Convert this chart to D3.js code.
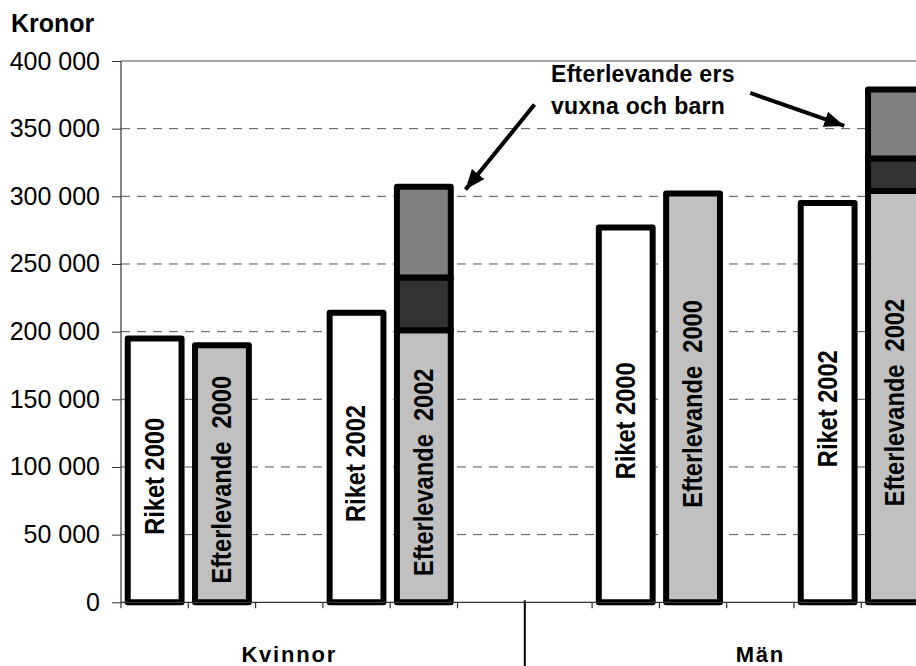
<!DOCTYPE html>
<meta charset="utf-8">
<style>
    body { margin: 0; background: #fff; }
    svg { font-family: "Liberation Sans", Arial, sans-serif; }
    .grid line { stroke: #555; stroke-width: 1px; stroke-dasharray: 9,7; }
    .bar { stroke: #000; stroke-width: 6px; stroke-linejoin: round; }
    .barlabel { font-size: 27.5px; font-weight: bold; white-space: pre; }
</style>
<svg width="916" height="666"></svg>
<script src="https://cdn.jsdelivr.net/npm/d3@7"></script>
<script>

    // category slots along the x axis (empty slots are the gaps)
    var slots = ["K Riket 2000", "K Efterlevande 2000", "K tom", "K Riket 2002", "K Efterlevande 2002",
                 "tom 1", "tom 2",
                 "M Riket 2000", "M Efterlevande 2000", "M tom", "M Riket 2002", "M Efterlevande 2002"];

    var groups = ["Kvinnor", "Män"];
    var groupFirst = ["K Riket 2000", "M Riket 2000"];
    var groupLast = ["K Efterlevande 2002", "M Efterlevande 2002"];

    // bars
    var barSlot = ["K Riket 2000", "K Efterlevande 2000", "K Riket 2002", "K Efterlevande 2002",
                   "M Riket 2000", "M Efterlevande 2000", "M Riket 2002", "M Efterlevande 2002"];
    var barLabel = ["Riket 2000", "Efterlevande  2000", "Riket 2002", "Efterlevande  2002",
                    "Riket 2000", "Efterlevande  2000", "Riket 2002", "Efterlevande  2002"];
    var baseValue = [195000, 190000, 214000, 201000, 277000, 302000, 295000, 304000];
    var darkPart  = [0, 0, 0, 39000, 0, 0, 0, 24000];
    var greyPart  = [0, 0, 0, 67000, 0, 0, 0, 51000];

    var yTicks = [0, 50000, 100000, 150000, 200000, 250000, 300000, 350000, 400000];

    var svg = d3.select("svg"),
        margin = {top: 61, left: 121, bottom: 63},
        bandW = 67.3,
        height = +svg.attr("height") - margin.top - margin.bottom;

    var x = d3.scaleBand().domain(slots)
        .range([margin.left, margin.left + bandW * slots.length]).padding(0);
    var y = d3.scaleLinear().domain([0, 400000]).range([margin.top + height - 0.7, margin.top]);

    var fmt = d3.formatLocale({decimal: ",", thousands: " ", grouping: [3], currency: ["", ""]}).format(",");

    // grid
    svg.append("g").attr("class", "grid")
        .selectAll("line")
        .data(yTicks.filter(function(d) { return d > 0 && d < 400000; }))
        .enter().append("line")
        .attr("x1", margin.left).attr("x2", 916)
        .attr("y1", function(d) { return y(d); })
        .attr("y2", function(d) { return y(d); });

    svg.append("line")
        .attr("x1", margin.left).attr("x2", 916)
        .attr("y1", y(400000)).attr("y2", y(400000))
        .attr("stroke", "#888").attr("stroke-width", 1.5);

    // bars
    var bars = barSlot.map(function(s, i) {
        return {slot: s, label: barLabel[i], base: baseValue[i], dark: darkPart[i], grey: greyPart[i]};
    });
    var bw = x.bandwidth() * 0.8;
    var bx = function(d) { return x(d.slot) + (x.bandwidth() - bw) / 2; };

    var bar = svg.append("g").selectAll("g").data(bars).enter().append("g");

    bar.append("rect").attr("class", "bar")
        .attr("x", bx).attr("width", bw)
        .attr("y", function(d) { return y(d.base); })
        .attr("height", function(d) { return y(0) - y(d.base); })
        .attr("fill", function(d) { return d.label.indexOf("Riket") === 0 ? "#fff" : "#c0c0c0"; });

    var stacked = bar.filter(function(d) { return d.dark > 0; });
    stacked.append("rect").attr("class", "bar")
        .attr("x", bx).attr("width", bw)
        .attr("y", function(d) { return y(d.base + d.dark); })
        .attr("height", function(d) { return y(d.base) - y(d.base + d.dark); })
        .attr("fill", "#333");
    stacked.append("rect").attr("class", "bar")
        .attr("x", bx).attr("width", bw)
        .attr("y", function(d) { return y(d.base + d.dark + d.grey); })
        .attr("height", function(d) { return y(d.base + d.dark) - y(d.base + d.dark + d.grey); })
        .attr("fill", "#808080");

    // labels are drawn tall and narrow, like the original
    bar.append("text").attr("class", "barlabel")
        .attr("xml:space", "preserve")
        .attr("transform", function(d) {
            return "translate(" + (x(d.slot) + x.bandwidth() / 2 - 1) + "," + ((y(0) + y(d.base)) / 2 + 6) + ") rotate(-90) scale(0.86,1)";
        })
        .attr("text-anchor", "middle")
        .attr("dy", "0.36em")
        .text(function(d) { return d.label; });

    // y axis
    var yAxis = svg.append("g")
        .attr("transform", "translate(" + margin.left + ",0)")
        .call(d3.axisLeft(y).tickValues(yTicks).tickFormat(fmt).tickSize(9).tickPadding(12));
    yAxis.select(".domain").attr("stroke", "#333").attr("stroke-width", 1.2).attr("d", "M0," + y(400000) + "V" + (y(0) + 6));
    yAxis.selectAll(".tick line").attr("stroke", "#333");
    yAxis.selectAll(".tick text").style("font-size", "25px").attr("fill", "#000");

    // x axis line and category ticks
    svg.append("line")
        .attr("x1", margin.left).attr("x2", 916)
        .attr("y1", y(0)).attr("y2", y(0))
        .attr("stroke", "#333").attr("stroke-width", 1.2);
    svg.append("g").selectAll("line")
        .data(slots.slice(1))
        .enter().append("line")
        .attr("x1", function(d) { return x(d); }).attr("x2", function(d) { return x(d); })
        .attr("y1", y(0)).attr("y2", y(0) + 6)
        .attr("stroke", "#333").attr("stroke-width", 1.2);

    // group divider
    svg.append("line")
        .attr("x1", x("tom 2")).attr("x2", x("tom 2"))
        .attr("y1", y(0) - 2).attr("y2", 666)
        .attr("stroke", "#000").attr("stroke-width", 2);

    // group labels
    svg.append("g").selectAll("text")
        .data(groups)
        .enter().append("text")
        .attr("x", function(d, i) { return (x(groupFirst[i]) + x(groupLast[i]) + x.bandwidth()) / 2; })
        .attr("y", 662)
        .attr("text-anchor", "middle")
        .style("font-size", "22px").style("font-weight", "bold").style("letter-spacing", "1.8px")
        .text(function(d) { return d; });

    // y title
    svg.append("text")
        .attr("x", 11).attr("y", 32)
        .style("font-size", "25px").style("font-weight", "bold")
        .text("Kronor");

    // annotation
    svg.append("defs").append("marker")
        .attr("id", "head")
        .attr("markerUnits", "userSpaceOnUse")
        .attr("viewBox", "0 0 20 16")
        .attr("refX", 20).attr("refY", 8)
        .attr("markerWidth", 20).attr("markerHeight", 16)
        .attr("orient", "auto")
        .append("path").attr("d", "M0,0L20,8L0,16Z").attr("fill", "#000");

    var note = svg.append("text")
        .attr("x", 551).attr("y", 82)
        .style("font-size", "23px").style("font-weight", "bold").style("letter-spacing", "0.3px");
    note.append("tspan").attr("x", 551).text("Efterlevande ers");
    note.append("tspan").attr("x", 551).attr("dy", 31.5).text("vuxna och barn");

    var arrows = [
        {tip: [x("K Efterlevande 2002") + x.bandwidth() + 8, y(305000)], tail: [69, -85]},
        {tip: [x("M Efterlevande 2002") - 17, y(352000)], tail: [-94, -33]}
    ];
    svg.append("g").selectAll("line")
        .data(arrows)
        .enter().append("line")
        .attr("x1", function(d) { return d.tip[0] + d.tail[0]; })
        .attr("y1", function(d) { return d.tip[1] + d.tail[1]; })
        .attr("x2", function(d) { return d.tip[0]; })
        .attr("y2", function(d) { return d.tip[1]; })
        .attr("stroke", "#000").attr("stroke-width", 4)
        .attr("marker-end", "url(#head)");

</script>
